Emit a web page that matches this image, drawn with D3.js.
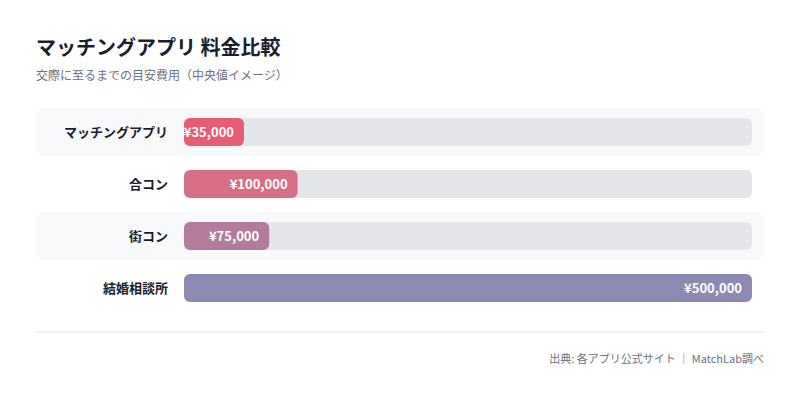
<!DOCTYPE html>
<html><head><meta charset="utf-8">
<script src="https://cdn.jsdelivr.net/npm/d3@7"></script>
<style>body{margin:0;background:#fff}svg{font-family:"Noto Sans CJK JP","Noto Sans",sans-serif}</style>
</head><body><svg id="chart" width="800" height="401"></svg>
<script>
const categories = ["マッチングアプリ", "合コン", "街コン", "結婚相談所"];
const values = [35000, 100000, 75000, 500000];
const colors = ["#e85d75", "#d66f86", "#b37a9c", "#8c89b3"];

const svg = d3.select("#chart");
const left = 184, right = 752;
const x = d3.scaleLinear().domain([0, 500000]).range([0, right - left]);
const y = d3.scaleBand().domain(categories).range([106, 314]).padding(0);

svg.append("text").attr("x", 36).attr("y", 55).attr("font-size", 20).attr("font-weight", 700)
  .attr("fill", "#1a1d2b").text("マッチングアプリ 料金比較");
svg.append("text").attr("x", 36).attr("y", 80).attr("font-size", 12).attr("fill", "#6b7080")
  .text("交際に至るまでの目安費用（中央値イメージ）");

const row = svg.selectAll("g.row").data(categories).join("g").attr("class", "row")
  .attr("transform", d => `translate(0,${y(d) + y.bandwidth() / 2})`);

row.filter((d, i) => i % 2 === 0).append("rect")
  .attr("x", 36).attr("y", -24).attr("width", 728).attr("height", 48).attr("rx", 8).attr("fill", "#f8f9fb");
row.append("rect").attr("x", left).attr("y", -14).attr("width", right - left).attr("height", 28)
  .attr("rx", 6).attr("fill", "#e5e6ea");
const bw = (d, i) => Math.max(60, x(values[i]));
row.append("rect").attr("x", left).attr("y", -14).attr("width", bw).attr("height", 28)
  .attr("rx", 6).attr("fill", (d, i) => colors[i]);
row.append("text").attr("x", 168).attr("y", 5).attr("text-anchor", "end").attr("font-size", 13)
  .attr("font-weight", 700).attr("fill", "#1a1d2b").text(d => d);
row.append("text").attr("x", (d, i) => left + bw(d, i) - 10).attr("y", 5).attr("text-anchor", "end")
  .attr("font-size", 13).attr("font-weight", 700).attr("fill", "#fff")
  .text((d, i) => "¥" + d3.format(",")(values[i]));

svg.append("line").attr("x1", 36).attr("x2", 764).attr("y1", 332).attr("y2", 332)
  .attr("stroke", "#e3e4e8");
svg.append("text").attr("x", 764).attr("y", 363).attr("text-anchor", "end").attr("font-size", 11)
  .attr("fill", "#6b7080").text("出典: 各アプリ公式サイト ｜ MatchLab調べ");
</script></body></html>
